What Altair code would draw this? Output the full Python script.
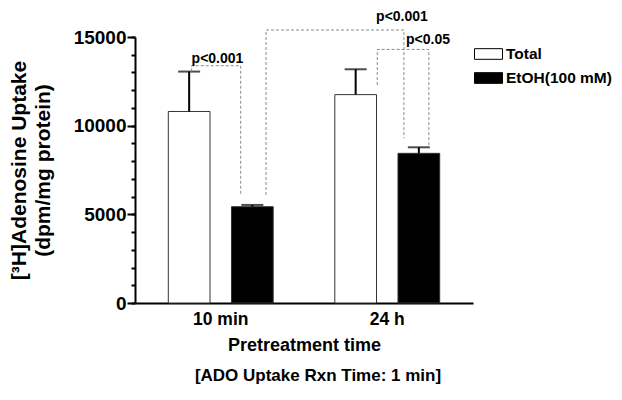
import altair as alt
import pandas as pd

FONT = "Liberation Sans, Arial, Helvetica, sans-serif"

# ---- data ----
groups = ["10 min", "24 h"]
series = ["Total", "EtOH(100 mM)"]
total_mean = [10800, 11750]
total_err = [2250, 1430]
etoh_mean = [5430, 8440]
etoh_err = [100, 340]

# significance brackets (x in group-index units, y in data units)
bracket_id = [1, 1, 1, 1, 2, 2, 2, 2, 3, 3, 3, 3]
bracket_ord = [0, 1, 2, 3, 0, 1, 2, 3, 0, 1, 2, 3]
bracket_x = [-0.175, -0.175, 0.12, 0.12,
             0.272, 0.272, 1.10, 1.10,
             0.94, 0.94, 1.25, 1.25]
bracket_y = [13050, 13380, 13380, 6090,
             6090, 15395, 15395, 9290,
             12290, 14300, 14300, 8780]

label_text = ["p<0.001", "p<0.001", "p<0.05"]
label_x = [-0.175, 0.933, 1.113]
label_y = [13510, 15900, 14580]

major_ticks = [0, 5000, 10000, 15000]
minor_ticks = list(range(0, 15001, 1000))

# ---- tables ----
rows = []
for i, g in enumerate(groups):
    rows.append({"group": g, "series": series[0], "mean": total_mean[i],
                 "upper": total_mean[i] + total_err[i]})
    rows.append({"group": g, "series": series[1], "mean": etoh_mean[i],
                 "upper": etoh_mean[i] + etoh_err[i]})
df = pd.DataFrame(rows)

br = pd.DataFrame({"id": bracket_id, "ord": bracket_ord, "x": bracket_x, "y": bracket_y})
lab = pd.DataFrame({"text": label_text, "x": label_x, "y": label_y})

yscale = alt.Scale(domain=[0, 15000], nice=False)
xband = alt.Scale(paddingInner=0.37, paddingOuter=0.2)
xoff = alt.Scale(paddingInner=0.34, paddingOuter=0)
xnum = alt.Scale(domain=[-0.515, 1.515], nice=False, zero=False)

base = alt.Chart(df)

bars = base.mark_bar(stroke="#333333", strokeWidth=1).encode(
    x=alt.X("group:N", sort=groups, scale=xband,
            axis=alt.Axis(title="Pretreatment time", labelAngle=0, ticks=False,
                          labelFontSize=17.5, labelFontWeight="bold", labelPadding=7,
                          titleFontSize=18, titleFontWeight="bold", titlePadding=9,
                          domainColor="black", domainWidth=2, labelColor="black",
                          titleColor="black")),
    xOffset=alt.XOffset("series:N", sort=series, scale=xoff),
    y=alt.Y("mean:Q", scale=yscale,
            axis=alt.Axis(values=major_ticks, format="d", tickSize=8, tickWidth=2,
                          tickColor="black", domainColor="black", domainWidth=2,
                          labelFontSize=19, labelFontWeight="bold", labelColor="black",
                          labelPadding=1, grid=False,
                          title=["[³H]Adenosine Uptake", "(dpm/mg protein)"],
                          titleFontSize=21, titleFontWeight="bold", titleColor="black",
                          titleLineHeight=24, titleBaseline="bottom",
                          titleX=-106, titleY=133, titleAngle=-90)),
    fill=alt.Fill("series:N", sort=series,
                  scale=alt.Scale(domain=series, range=["white", "black"]),
                  legend=alt.Legend(title=None, orient="none", legendX=339, legendY=6,
                                    symbolType="M-1,-0.38H1V0.38H-1Z", symbolSize=784,
                                    symbolStrokeColor="black", symbolStrokeWidth=1,
                                    clipHeight=22, labelFontSize=15.5, labelFontWeight="bold",
                                    labelColor="black", labelOffset=3, padding=0)),
)

err = base.mark_rule(color="black", strokeWidth=2).encode(
    x=alt.X("group:N", sort=groups, scale=xband, axis=None),
    xOffset=alt.XOffset("series:N", sort=series, scale=xoff),
    y=alt.Y("mean:Q", scale=yscale,
            axis=alt.Axis(values=minor_ticks, labels=False, domain=False,
                          tickSize=4, tickWidth=2, tickColor="black", title=None,
                          grid=False, orient="left")),
    y2="upper:Q",
)

caps = base.mark_tick(color="black", size=22, thickness=2).encode(
    x=alt.X("group:N", sort=groups, scale=xband, axis=None),
    xOffset=alt.XOffset("series:N", sort=series, scale=xoff),
    y=alt.Y("upper:Q", scale=yscale, axis=None),
)

brackets = alt.Chart(br).mark_line(color="#8a8a8a", strokeWidth=1, strokeDash=[3, 2]).encode(
    x=alt.X("x:Q", scale=xnum, axis=None),
    y=alt.Y("y:Q", scale=yscale, axis=None),
    detail="id:N",
    order="ord:Q",
)

labels = alt.Chart(lab).mark_text(align="left", baseline="alphabetic", fontSize=14,
                                  fontWeight="bold", color="black", font=FONT).encode(
    x=alt.X("x:Q", scale=xnum, axis=None),
    y=alt.Y("y:Q", scale=yscale, axis=None),
    text="text:N",
)

chart = alt.layer(bars, err, caps, brackets, labels).resolve_scale(
    x="independent"
).resolve_axis(y="independent").properties(
    width=338, height=266,
    autosize=alt.AutoSizeParams(type="none"),
    padding={"left": 127, "top": 29, "right": 141, "bottom": 89},
    title=alt.TitleParams("[ADO Uptake Rxn Time: 1 min]", orient="bottom", anchor="middle",
                          fontSize=17, fontWeight="bold", color="black", offset=13, dx=14,
                          font=FONT),
).configure(font=FONT).configure_view(stroke=None)

chart.save("out.html", embed_options={"renderer": "svg", "actions": False})
